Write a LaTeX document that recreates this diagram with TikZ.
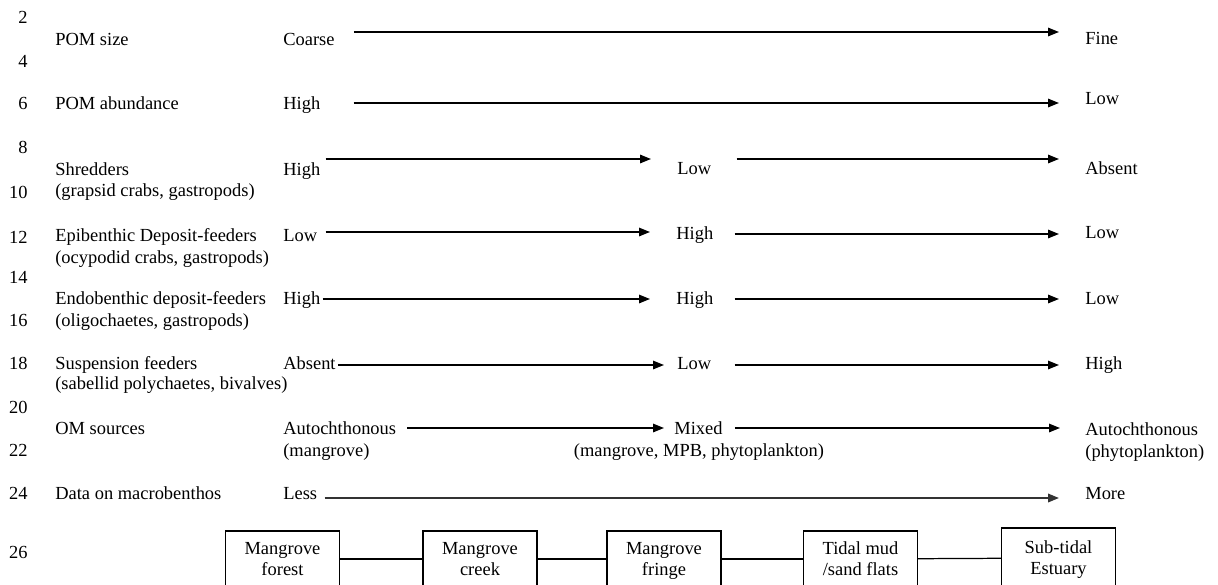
\documentclass[tikz,border=0pt]{standalone}
\usepackage{fontspec}
\setmainfont{Liberation Serif}
\usetikzlibrary{arrows.meta,positioning}

\begin{document}
\begin{tikzpicture}[
    font=\fontsize{10.5}{12}\selectfont,
    txt/.style={inner sep=0pt, anchor=west, text height=7pt, text depth=0pt},
    num/.style={txt, anchor=east},
    box/.style={rectangle, draw, line width=0.7pt, minimum width=2.28cm, minimum height=1.12cm, align=center, inner sep=1pt, text depth=0pt},
    arrow/.style={-{Triangle[length=2.2mm,width=1.7mm]}, line width=0.85pt},
    link/.style={line width=0.7pt}
]
\useasboundingbox (0,0) rectangle (24.36,11.68);

% Line numbers of the manuscript
\node[num] (n2) at (0.56,11.34) {2};
\node[num] (n4) at (0.56,10.46) {4};
\node[num] (n6) at (0.56,9.62) {6};
\node[num] (n8) at (0.56,8.74) {8};
\node[num] (n10) at (0.56,7.84) {10};
\node[num] (n12) at (0.56,6.94) {12};
\node[num] (n14) at (0.56,6.14) {14};
\node[num] (n16) at (0.56,5.28) {16};
\node[num] (n18) at (0.56,4.42) {18};
\node[num] (n20) at (0.56,3.54) {20};
\node[num] (n22) at (0.56,2.68) {22};
\node[num] (n24) at (0.56,1.82) {24};
\node[num] (n26) at (0.56,0.64) {26};

% Row labels
\node[txt] (pomsize) at (1.10,10.90) {POM size};
\node[txt] (pomabund) at (1.10,9.62) {POM abundance};
\node[txt] (shred) at (1.10,8.30) {Shredders};
\node[txt] (shredsub) at (1.10,7.88) {(grapsid crabs, gastropods)};
\node[txt] (epi) at (1.10,6.98) {Epibenthic Deposit-feeders};
\node[txt] (episub) at (1.10,6.54) {(ocypodid crabs, gastropods)};
\node[txt] (endo) at (1.10,5.72) {Endobenthic deposit-feeders};
\node[txt] (endosub) at (1.10,5.28) {(oligochaetes, gastropods)};
\node[txt] (susp) at (1.10,4.42) {Suspension feeders};
\node[txt] (suspsub) at (1.10,4.02) {(sabellid polychaetes, bivalves)};
\node[txt] (omsrc) at (1.10,3.12) {OM sources};
\node[txt] (data) at (1.10,1.82) {Data on macrobenthos};

% Left values
\node[txt] (coarse) at (5.66,10.90) {Coarse};
\node[txt] (abundhi) at (5.66,9.62) {High};
\node[txt] (shredhi) at (5.66,8.30) {High};
\node[txt] (epilo) at (5.66,6.98) {Low};
\node[txt] (endohi) at (5.66,5.72) {High};
\node[txt] (suspab) at (5.66,4.42) {Absent};
\node[txt] (omauto) at (5.66,3.12) {Autochthonous};
\node[txt] (omautosub) at (5.66,2.68) {(mangrove)};
\node[txt] (less) at (5.66,1.82) {Less};

% Middle values
\node[txt] (shredlo) at (13.54,8.32) {Low};
\node[txt] (epihi) at (13.52,7.02) {High};
\node[txt] (endohimid) at (13.52,5.72) {High};
\node[txt] (susplo) at (13.54,4.42) {Low};
\node[txt] (mixed) at (13.48,3.12) {Mixed};
\node[txt, anchor=center] (mixedsub) at (13.98,2.68) {(mangrove, MPB, phytoplankton)};

% Right values
\node[txt] (fine) at (21.70,10.92) {Fine};
\node[txt] (abundlo) at (21.70,9.72) {Low};
\node[txt] (shredab) at (21.70,8.32) {Absent};
\node[txt] (epilo2) at (21.70,7.04) {Low};
\node[txt] (endolo) at (21.70,5.72) {Low};
\node[txt] (susphi) at (21.70,4.42) {High};
\node[txt] (omauto2) at (21.70,3.10) {Autochthonous};
\node[txt] (omauto2sub) at (21.70,2.66) {(phytoplankton)};
\node[txt] (more) at (21.70,1.82) {More};

% Gradient arrows
\draw[arrow] ([xshift=3.8mm,yshift=1.4mm]coarse.east) -- ([xshift=-5.2mm,yshift=1.4mm]fine.west |- coarse.east);
\draw[arrow] ([xshift=6.6mm]abundhi.east) -- ([xshift=-5.2mm]abundlo.west |- abundhi.east);
\draw[arrow] ([xshift=1mm,yshift=2mm]shredhi.east) -- ([xshift=-5.2mm,yshift=2mm]shredlo.west |- shredhi.east);
\draw[arrow] ([xshift=5mm,yshift=1.8mm]shredlo.east) -- ([xshift=-5.2mm,yshift=1.8mm]shredab.west |- shredlo.east);
\draw[arrow] ([xshift=1.6mm,yshift=0.6mm]epilo.east) -- ([xshift=-5.2mm,yshift=0.6mm]epihi.west |- epilo.east);
\draw[arrow] ([xshift=4.2mm,yshift=-0.2mm]epihi.east) -- ([xshift=-5.2mm,yshift=-0.2mm]epilo2.west |- epihi.east);
\draw[arrow] ([xshift=0.4mm,yshift=-0.2mm]endohi.east) -- ([xshift=-5.2mm,yshift=-0.2mm]endohimid.west |- endohi.east);
\draw[arrow] ([xshift=4.2mm,yshift=-0.2mm]endohimid.east) -- ([xshift=-5.2mm,yshift=-0.2mm]endolo.west |- endohimid.east);
\draw[arrow] ([xshift=0.4mm,yshift=-0.4mm]suspab.east) -- ([xshift=-2.6mm,yshift=-0.4mm]susplo.west |- suspab.east);
\draw[arrow] ([xshift=4.6mm,yshift=-0.4mm]susplo.east) -- ([xshift=-5.2mm,yshift=-0.4mm]susphi.west |- susplo.east);
\draw[arrow] ([xshift=2.2mm]omauto.east) -- ([xshift=-2mm]mixed.west |- omauto.east);
\draw[arrow] ([xshift=2.4mm]mixed.east) -- ([xshift=-5mm]omauto2.west |- mixed.east);
\draw[arrow, line width=1.1pt, draw=black!80] ([xshift=1.4mm,yshift=-1mm]less.east) -- ([xshift=-5.2mm,yshift=-1mm]more.west |- less.east);

% Habitats along the gradient
\node[box] (forest) at (5.65,0.50) {Mangrove\\forest};
\node[box] (creek) at (9.60,0.50) {Mangrove\\creek};
\node[box] (fringe) at (13.28,0.50) {Mangrove\\fringe};
\node[box] (flats) at (17.21,0.50) {Tidal mud\\/sand flats};
\node[box, minimum height=1.2cm] (subtidal) at (21.17,0.52) {Sub-tidal\\Estuary};

\draw[link] (forest) -- (creek);
\draw[link] (creek) -- (fringe);
\draw[link] (fringe) -- (flats);
\draw[link] (flats) -- (subtidal);

\end{tikzpicture}
\end{document}
